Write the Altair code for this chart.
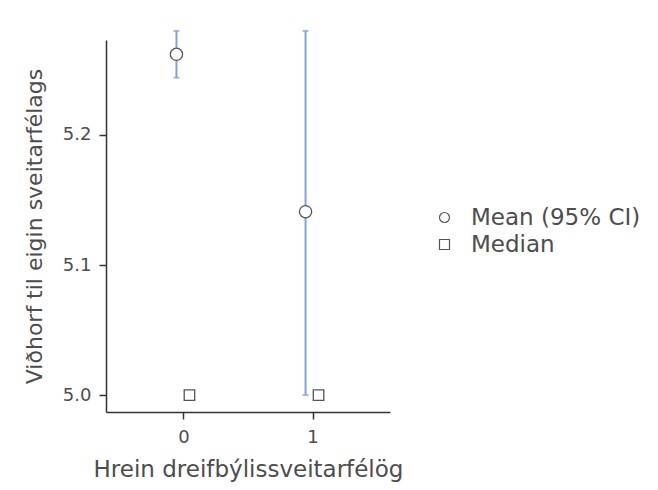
import altair as alt
import pandas as pd

groups = [0, 1]
means = [5.262, 5.141]
ci_low = [5.244, 5.000]
ci_high = [5.280, 5.280]
medians = [5.0, 5.0]
series_names = ["Mean (95% CI)", "Median"]

mean_df = pd.DataFrame({"group": groups, "value": means, "lo": ci_low, "hi": ci_high,
                        "series": series_names[0]})
med_df = pd.DataFrame({"group": groups, "value": medians, "series": series_names[1]})

FONT = "DejaVu Sans"
text_color = "#4d4d4d"
axis_color = "#333333"
err_color = "#7aa3e0"
pt_color = "#555555"

xscale = alt.Scale(domain=[-0.6, 1.6], nice=False, zero=False)
yscale = alt.Scale(domain=[4.987, 5.273], nice=False, zero=False)

xaxis = alt.Axis(values=groups, format="d", title="Hrein dreifbýlissveitarfélög", grid=False)
yaxis = alt.Axis(values=[5.0, 5.1, 5.2], format=".1f", title="Viðhorf til eigin sveitarfélags", grid=False)

shape_scale = alt.Scale(domain=series_names, range=["circle", "square"])

rule = alt.Chart(mean_df).mark_rule(color=err_color, strokeWidth=2, xOffset=-7).encode(
    x=alt.X("group:Q", scale=xscale, axis=xaxis),
    y=alt.Y("lo:Q", scale=yscale, axis=yaxis),
    y2="hi:Q",
)
cap_lo = alt.Chart(mean_df).mark_tick(color=err_color, size=6, thickness=2, orient="horizontal", xOffset=-7).encode(
    x=alt.X("group:Q", scale=xscale), y=alt.Y("lo:Q", scale=yscale))
cap_hi = alt.Chart(mean_df).mark_tick(color=err_color, size=6, thickness=2, orient="horizontal", xOffset=-7).encode(
    x=alt.X("group:Q", scale=xscale), y=alt.Y("hi:Q", scale=yscale))

legend = alt.Legend(title=None, orient="none", legendX=327, legendY=166, labelFontSize=23,
                    labelColor=text_color, labelFont=FONT, labelLimit=400,
                    symbolSize=100, symbolStrokeWidth=1.2, rowPadding=3, labelOffset=15)

mean_bg = alt.Chart(mean_df).mark_point(shape="circle", filled=True, color="white", size=150,
                                        opacity=1, xOffset=-7).encode(
    x=alt.X("group:Q", scale=xscale), y=alt.Y("value:Q", scale=yscale))
med_bg = alt.Chart(med_df).mark_point(shape="square", filled=True, color="white", size=110,
                                      opacity=1, xOffset=6).encode(
    x=alt.X("group:Q", scale=xscale), y=alt.Y("value:Q", scale=yscale))

mean_pts = alt.Chart(mean_df).mark_point(filled=False, color=pt_color, strokeWidth=1.3,
                                         size=150, opacity=1, xOffset=-7).encode(
    x=alt.X("group:Q", scale=xscale), y=alt.Y("value:Q", scale=yscale),
    shape=alt.Shape("series:N", scale=shape_scale, legend=legend),
)
med_pts = alt.Chart(med_df).mark_point(filled=False, color=pt_color, strokeWidth=1.3,
                                       size=110, opacity=1, xOffset=6).encode(
    x=alt.X("group:Q", scale=xscale), y=alt.Y("value:Q", scale=yscale),
    shape=alt.Shape("series:N", scale=shape_scale, legend=legend),
)

chart = alt.layer(rule, cap_lo, cap_hi, mean_bg, med_bg, mean_pts, med_pts).properties(
    width=284, height=372,
    autosize=alt.AutoSizeParams(type="none"),
    padding={"left": 98, "top": 32, "right": 260, "bottom": 70},
).configure_view(stroke=None).configure_axis(
    domainColor=axis_color, domainWidth=1.5, tickColor=axis_color, tickWidth=1.5, tickSize=7,
    labelColor=text_color, labelFontSize=18, labelFont=FONT,
    titleColor=text_color, titleFontWeight="normal", titleFont=FONT, labelPadding=8,
).configure_axisX(titlePadding=12, titleFontSize=23, labelPadding=9).configure_axisY(titlePadding=16, titleFontSize=22)

chart.save("out.html", embed_options={"renderer": "svg", "actions": False})
